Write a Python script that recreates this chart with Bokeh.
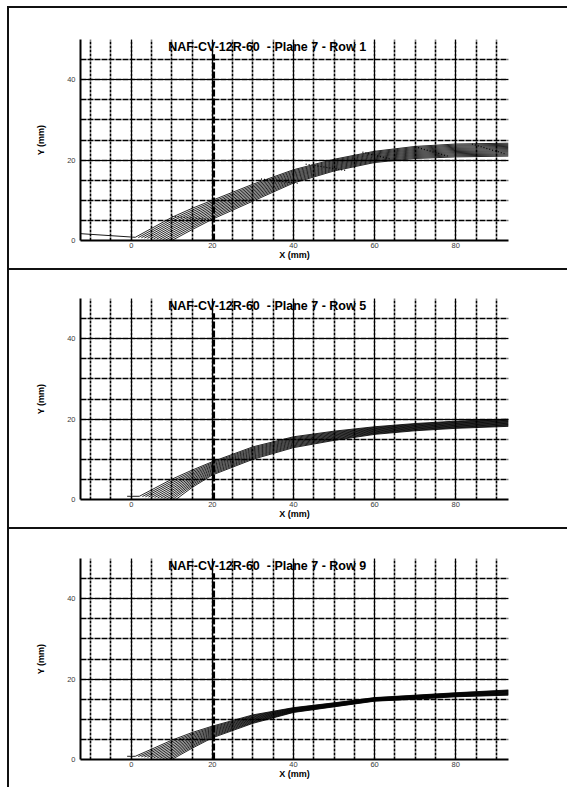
from bokeh.plotting import figure
from bokeh.layouts import column
from bokeh.models import Range1d, SingleIntervalTicker, Label
from bokeh.embed import file_html
from bokeh.resources import INLINE

# ---------------- data ----------------
GRID_X = [5, 10, 15, 20, 30, 40, 50, 60, 70, 80, 93]
N = None

ROW1_X0 = [1, 1.75, 2.5, 3.25, 4, 4.75, 5.5, 6.25, 7, 7.75, 8.5, 9.25, 10]
ROW1_Y0 = [0.8, 0.73, 0.67, 0.6, 0.53, 0.47, 0.4, 0.33, 0.27, 0.2, 0.13, 0.07, 0]
ROW1_Y = [
    [3.0, 5.75, 8.0, 10.0, 14.0, 17.6, 20.2, 22.2, 23.4, 24.0, 24.2],
    [2.52, 5.27, 7.56, 9.61, 13.65, 17.33, 19.96, 21.97, 23.15, 23.73, 23.93],
    [2.04, 4.79, 7.12, 9.22, 13.3, 17.05, 19.72, 21.73, 22.9, 23.47, 23.67],
    [1.56, 4.31, 6.67, 8.82, 12.95, 16.77, 19.47, 21.5, 22.65, 23.2, 23.4],
    [1.08, 3.83, 6.23, 8.43, 12.6, 16.5, 19.23, 21.27, 22.4, 22.93, 23.13],
    [0.61, 3.35, 5.79, 8.04, 12.25, 16.22, 18.99, 21.03, 22.15, 22.67, 22.87],
    [N, 2.88, 5.35, 7.65, 11.9, 15.95, 18.75, 20.8, 21.9, 22.4, 22.6],
    [N, 2.4, 4.91, 7.26, 11.55, 15.68, 18.51, 20.57, 21.65, 22.13, 22.33],
    [N, 1.92, 4.47, 6.87, 11.2, 15.4, 18.27, 20.33, 21.4, 21.87, 22.07],
    [N, 1.44, 4.02, 6.47, 10.85, 15.12, 18.02, 20.1, 21.15, 21.6, 21.8],
    [N, 0.96, 3.58, 6.08, 10.5, 14.85, 17.78, 19.87, 20.9, 21.33, 21.53],
    [N, 0.48, 3.14, 5.69, 10.15, 14.57, 17.54, 19.63, 20.65, 21.07, 21.27],
    [N, N, 2.7, 5.3, 9.8, 14.3, 17.3, 19.4, 20.4, 20.8, 21.0],
]
ROW1_LEAD_X = [-12.5, 1]
ROW1_LEAD_Y = [1.7, 0.8]
# dotted cross marks inside the Row 1 bundle
ROW1_DOT_X0 = [10, 32, 43, 57, 70, 84]
ROW1_DOT_Y0 = [6.0, 15.3, 19.0, 22.0, 23.3, 24.0]
ROW1_DOT_X1 = [20, 41, 53, 64, 78, 92]
ROW1_DOT_Y1 = [5.2, 14.2, 17.4, 20.2, 21.0, 21.6]

ROW5_X0 = [2, 2.75, 3.5, 4.25, 5, 5.75, 6.5, 7.25, 8, 8.75, 9.5, 10.25, 11]
ROW5_Y0 = [0.8, 0.73, 0.67, 0.6, 0.53, 0.47, 0.4, 0.33, 0.27, 0.2, 0.13, 0.07, 0]
ROW5_Y = [
    [2.39, 5.04, 7.3, 9.4, 13.1, 15.6, 17.0, 18.1, 18.9, 19.5, 20.0],
    [1.92, 4.58, 6.94, 9.13, 12.84, 15.38, 16.81, 17.94, 18.75, 19.35, 19.85],
    [1.47, 4.11, 6.58, 8.85, 12.58, 15.15, 16.62, 17.78, 18.6, 19.2, 19.7],
    [1.0, 3.65, 6.22, 8.57, 12.32, 14.92, 16.42, 17.62, 18.45, 19.05, 19.55],
    [N, 3.18, 5.87, 8.3, 12.07, 14.7, 16.23, 17.47, 18.3, 18.9, 19.4],
    [N, 2.72, 5.51, 8.03, 11.81, 14.48, 16.04, 17.31, 18.15, 18.75, 19.25],
    [N, 2.25, 5.15, 7.75, 11.55, 14.25, 15.85, 17.15, 18.0, 18.6, 19.1],
    [N, 1.79, 4.79, 7.48, 11.29, 14.03, 15.66, 16.99, 17.85, 18.45, 18.95],
    [N, 1.33, 4.43, 7.2, 11.03, 13.8, 15.47, 16.83, 17.7, 18.3, 18.8],
    [N, 0.86, 4.07, 6.92, 10.77, 13.57, 15.27, 16.67, 17.55, 18.15, 18.65],
    [N, 0.4, 3.72, 6.65, 10.52, 13.35, 15.08, 16.52, 17.4, 18.0, 18.5],
    [N, N, 3.36, 6.37, 10.26, 13.12, 14.89, 16.36, 17.25, 17.85, 18.35],
    [N, N, 3.0, 6.1, 10.0, 12.9, 14.7, 16.2, 17.1, 17.7, 18.2],
]
ROW5_LEAD_X = [-1, 2]
ROW5_LEAD_Y = [0.8, 0.8]

ROW9_X0 = [1, 1.75, 2.5, 3.25, 4, 4.75, 5.5, 6.25, 7, 7.75, 8.5, 9.25, 10]
ROW9_Y0 = [0.8, 0.73, 0.67, 0.6, 0.53, 0.47, 0.4, 0.33, 0.27, 0.2, 0.13, 0.07, 0]
ROW9_Y = [
    [2.56, 4.8, 6.7, 8.3, 11.1, 12.9, 14.1, 15.4, 16.0, 16.6, 17.3],
    [2.16, 4.4, 6.37, 8.06, 10.92, 12.8, 14.02, 15.33, 15.92, 16.52, 17.19],
    [1.77, 4.0, 6.05, 7.82, 10.75, 12.7, 13.93, 15.25, 15.83, 16.43, 17.08],
    [1.37, 3.6, 5.72, 7.57, 10.57, 12.6, 13.85, 15.17, 15.75, 16.35, 16.97],
    [0.97, 3.2, 5.4, 7.33, 10.4, 12.5, 13.77, 15.1, 15.67, 16.27, 16.87],
    [0.58, 2.8, 5.07, 7.09, 10.22, 12.4, 13.68, 15.03, 15.58, 16.18, 16.76],
    [N, 2.4, 4.75, 6.85, 10.05, 12.3, 13.6, 14.95, 15.5, 16.1, 16.65],
    [N, 2.0, 4.42, 6.61, 9.88, 12.2, 13.52, 14.88, 15.42, 16.02, 16.54],
    [N, 1.6, 4.1, 6.37, 9.7, 12.1, 13.43, 14.8, 15.33, 15.93, 16.43],
    [N, 1.2, 3.77, 6.12, 9.53, 12.0, 13.35, 14.73, 15.25, 15.85, 16.32],
    [N, 0.8, 3.45, 5.88, 9.35, 11.9, 13.27, 14.65, 15.17, 15.77, 16.22],
    [N, 0.4, 3.12, 5.64, 9.18, 11.8, 13.18, 14.58, 15.08, 15.68, 16.11],
    [N, N, 2.8, 5.4, 9.0, 11.7, 13.1, 14.5, 15.0, 15.6, 16.0],
]
ROW9_LEAD_X = [-1, 1]
ROW9_LEAD_Y = [0.8, 0.8]

TITLES = ["NAF-CV-12R-60\u00a0 - Plane 7 - Row 1",
          "NAF-CV-12R-60\u00a0 - Plane 7 - Row 5",
          "NAF-CV-12R-60\u00a0 - Plane 7 - Row 9"]
MARKER_X = 20.4
MARKER_TOP = 46.3
X_LIMITS = (-12.5, 93)
Y_LIMITS = (0, 50)

FONT = "Liberation Sans"


def build_curves(x0s, y0s, ys):
    xs_all, ys_all = [], []
    for x0, y0, row in zip(x0s, y0s, ys):
        cx, cy = [x0], [y0]
        for gx, gy in zip(GRID_X, row):
            if gy is not None:
                cx.append(gx)
                cy.append(gy)
        xs_all.append(cx)
        ys_all.append(cy)
    return xs_all, ys_all


def panel(title, x0s, y0s, ys, lead_x, lead_y, top, bottom, dots=None):
    p = figure(width=560, height=top + 201 + bottom,
               x_range=Range1d(*X_LIMITS), y_range=Range1d(*Y_LIMITS),
               output_backend="svg", toolbar_location=None,
               min_border_left=71, min_border_right=61,
               min_border_top=top, min_border_bottom=bottom,
               styles={"border-top": "2px solid #111", "border-left": "2px solid #111"})
    p.outline_line_color = None
    p.background_fill_color = "white"
    p.border_fill_color = "white"

    p.xaxis.ticker = SingleIntervalTicker(interval=20, num_minor_ticks=4)
    p.yaxis.ticker = SingleIntervalTicker(interval=20, num_minor_ticks=4)
    for ax in (p.xaxis, p.yaxis):
        ax.major_tick_line_color = None
        ax.minor_tick_line_color = None
        ax.major_tick_out = 0
        ax.major_tick_in = 0
        ax.minor_tick_out = 0
        ax.minor_tick_in = 0
        ax.axis_line_color = "black"
        ax.axis_line_width = 2
        ax.major_label_text_font = FONT
        ax.major_label_text_font_size = "7.5px"
        ax.major_label_text_color = "#3a3a3a"
        ax.axis_label_text_font = FONT
        ax.axis_label_text_font_style = "bold"
        ax.axis_label_text_font_size = "9px"
        ax.axis_label_text_color = "black"
    p.xaxis.axis_label = "X (mm)"
    p.yaxis.axis_label = "Y (mm)"
    p.xaxis.major_label_standoff = 2
    p.xaxis.axis_label_standoff = -1
    p.yaxis.major_label_standoff = 5
    p.yaxis.axis_label_standoff = 18
    p.yaxis.major_label_orientation = "horizontal"

    for g in (p.xgrid, p.ygrid):
        g.grid_line_color = "black"
        g.grid_line_width = 1
        g.grid_line_alpha = 1
        g.minor_grid_line_color = "black"
        g.minor_grid_line_width = 1.6
    p.xgrid.minor_grid_line_dash = "3 1"
    p.ygrid.minor_grid_line_dash = "6 1"
    p.xgrid.ticker = p.xaxis.ticker
    p.ygrid.ticker = p.yaxis.ticker

    xs, yy = build_curves(x0s, y0s, ys)
    p.multi_line(xs, yy, line_color="black", line_width=0.85)
    p.line(lead_x, lead_y, line_color="black", line_width=0.9)

    if dots is not None:
        dx0, dy0, dx1, dy1 = dots
        p.segment(x0=dx0, y0=dy0, x1=dx1, y1=dy1, line_color="black",
                  line_width=1.3, line_dash="1 2")

    p.segment(x0=[MARKER_X], y0=[0], x1=[MARKER_X], y1=[MARKER_TOP],
              line_color="black", line_width=2.2, line_dash="7 2")

    p.add_layout(Label(x=9.1, y=50, text=title, text_font=FONT,
                       text_font_style="bold", text_font_size="12.5px",
                       text_align="left", text_baseline="top",
                       text_color="black"))
    return p


p1 = panel(TITLES[0], ROW1_X0, ROW1_Y0, ROW1_Y, ROW1_LEAD_X, ROW1_LEAD_Y, 31, 30,
           dots=(ROW1_DOT_X0, ROW1_DOT_Y0, ROW1_DOT_X1, ROW1_DOT_Y1))
p2 = panel(TITLES[1], ROW5_X0, ROW5_Y0, ROW5_Y, ROW5_LEAD_X, ROW5_LEAD_Y, 28, 30)
p3 = panel(TITLES[2], ROW9_X0, ROW9_Y0, ROW9_Y, ROW9_LEAD_X, ROW9_LEAD_Y, 29, 30)

layout = column(p1, p2, p3, spacing=0,
                styles={"margin-left": "7px", "margin-top": "6px"})
open("out.html", "w").write(file_html(layout, INLINE))
